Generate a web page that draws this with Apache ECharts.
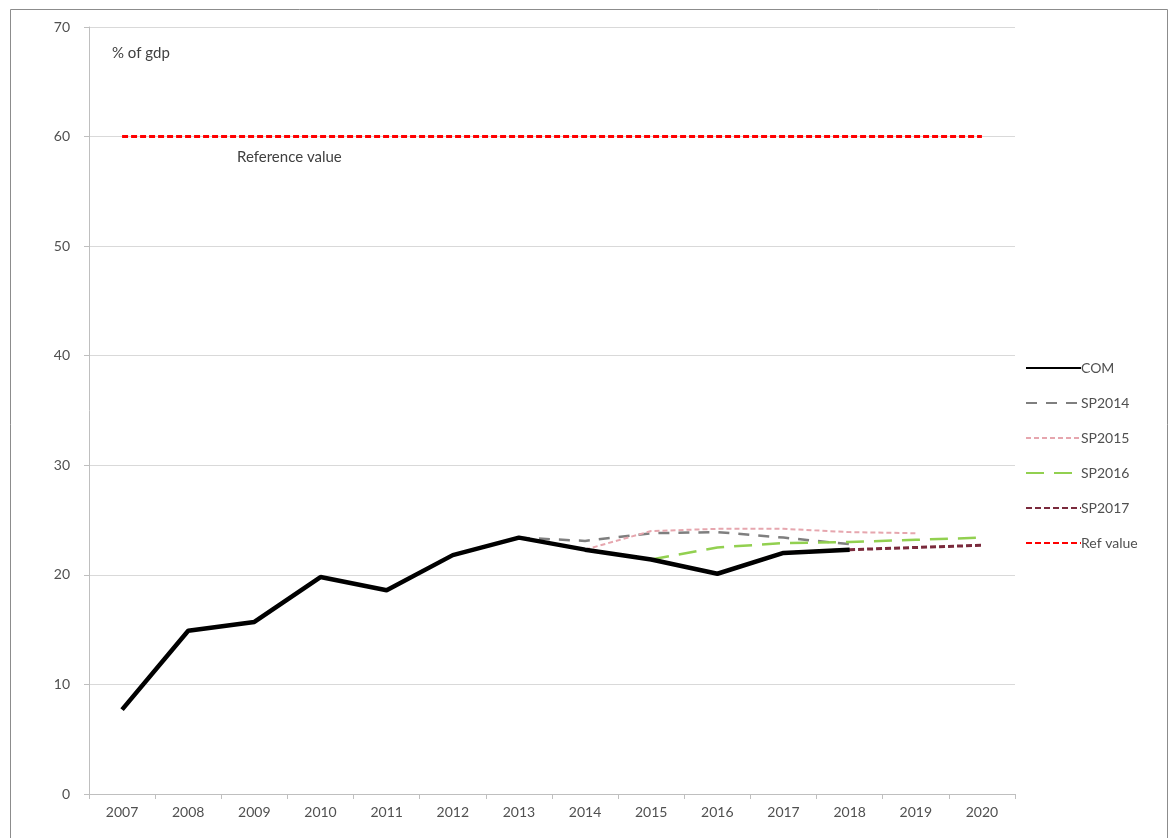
<!DOCTYPE html>
<html>
<head>
<meta charset="utf-8">
<script src="https://cdn.jsdelivr.net/npm/echarts@6/dist/echarts.min.js"></script>
<style>
html,body{margin:0;padding:0;background:#fff;}
#c{width:1171px;height:838px;}
</style>
</head>
<body>
<div id="c"></div>
<script>
const years = ['2007','2008','2009','2010','2011','2012','2013','2014','2015','2016','2017','2018','2019','2020'];
const com    = [7.7, 14.9, 15.7, 19.8, 18.6, 21.8, 23.4, 22.3, 21.4, 20.1, 22.0, 22.3, null, null];
const sp2014 = [null, null, null, null, null, null, 23.4, 23.1, 23.8, 23.9, 23.4, 22.8, null, null];
const sp2015 = [null, null, null, null, null, null, null, 22.3, 24.0, 24.2, 24.2, 23.9, 23.8, null];
const sp2016 = [null, null, null, null, null, null, null, null, 21.4, 22.5, 22.9, 23.0, 23.2, 23.4];
const sp2017 = [null, null, null, null, null, null, null, null, null, 20.1, 22.0, 22.3, 22.5, 22.7];
const refValue = [60, 60, 60, 60, 60, 60, 60, 60, 60, 60, 60, 60, 60, 60];
const yTicks = [0, 10, 20, 30, 40, 50, 60, 70];

const font = 'Lato, "Open Sans", sans-serif';
const chart = echarts.init(document.getElementById('c'), null, {renderer: 'canvas'});
function ls(name, data, color, width, type, z) {
  return {
    name: name, type: 'line', data: data, symbol: 'none', z: z,
    connectNulls: false, animation: false,
    lineStyle: {color: color, width: width, type: type, cap: 'butt'},
    itemStyle: {color: color}
  };
}
chart.setOption({
  animation: false,
  backgroundColor: '#fff',
  grid: {left: 89, right: 156, top: 27, bottom: 44, containLabel: false},
  xAxis: {
    type: 'category', data: years, boundaryGap: true,
    axisLine: {lineStyle: {color: '#bfbfbf', width: 1}},
    axisTick: {show: true, interval: 0, length: 5, lineStyle: {color: '#bfbfbf'}},
    axisLabel: {color: '#505050', fontSize: 14, fontFamily: font, margin: 11, interval: 0},
    splitLine: {show: false}
  },
  yAxis: {
    type: 'value', min: yTicks[0], max: yTicks[yTicks.length - 1], interval: 10,
    axisLine: {show: true, lineStyle: {color: '#bfbfbf', width: 1}},
    axisTick: {show: true, length: 5, lineStyle: {color: '#bfbfbf'}},
    axisLabel: {color: '#505050', fontSize: 14, fontFamily: font, margin: 19},
    splitLine: {show: true, lineStyle: {color: '#d9d9d9', width: 1}}
  },
  legend: {
    orient: 'vertical', left: 1020, top: 356, itemGap: 21,
    itemWidth: 55, itemHeight: 14,
    itemStyle: {opacity: 0},
    textStyle: {color: '#505050', fontSize: 14, fontFamily: font, padding: [0, 0, 0, -5]},
    data: ['COM', 'SP2014', 'SP2015', 'SP2016', 'SP2017', 'Ref value']
  },
  graphic: [
    {type: 'rect', left: 8, top: 7, shape: {width: 1157, height: 840}, style: {fill: 'none', stroke: '#8c8c8c', lineWidth: 1}, silent: true},
    {type: 'text', left: 112, top: 46, style: {text: '% of gdp', fill: '#404040', fontSize: 15, fontFamily: font}},
    {type: 'text', left: 237, top: 150, style: {text: 'Reference value', fill: '#404040', fontSize: 15, fontFamily: font}}
  ],
  series: [
    ls('SP2014', sp2014, '#7f7f7f', 2.5, [11, 9], 3),
    ls('SP2015', sp2015, '#e6a6ae', 2, [5, 3], 3),
    ls('SP2016', sp2016, '#92d050', 2.5, [18, 10], 3),
    ls('SP2017', sp2017, '#7a2a3c', 3, [6, 3], 4),
    ls('COM', com, '#000000', 4.5, 'solid', 5),
    ls('Ref value', refValue, '#ff0000', 3, [6, 3], 3)
  ]
});
</script>
</body>
</html>
